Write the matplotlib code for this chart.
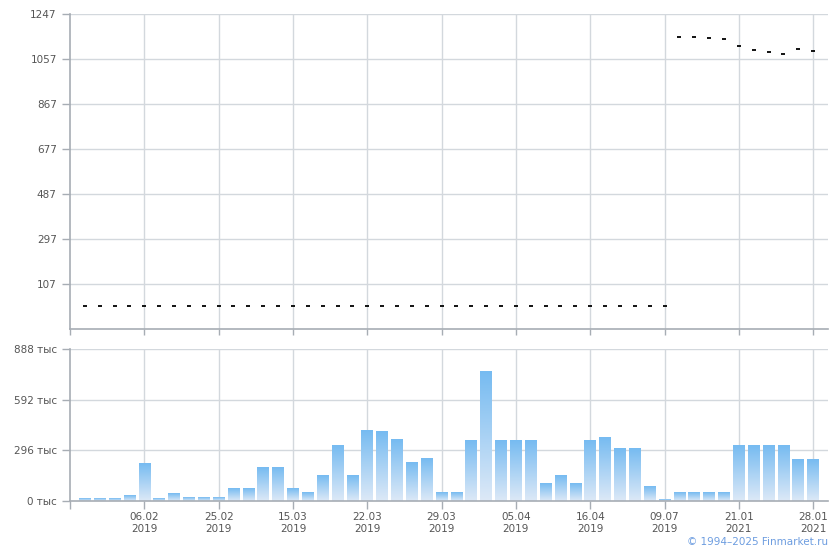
import numpy as np
import matplotlib
matplotlib.use('Agg')
import matplotlib.pyplot as plt
from matplotlib.colors import LinearSegmentedColormap

# цена (верхний график): 40 точек по ~17, потом 10 точек около 1100
price = [17] * 40 + [1148, 1148, 1144, 1140, 1112, 1094, 1085, 1078, 1098, 1090]

# объём торгов, тыс
volume = [17, 17, 17, 35, 221, 12, 41, 23, 23, 23,
          76, 76, 198, 198, 76, 52, 151, 326, 151, 413,
          408, 361, 227, 250, 52, 52, 355, 757, 355, 355,
          355, 105, 151, 105, 355, 373, 309, 309, 82, 6,
          47, 47, 47, 47, 326, 326, 326, 326, 245, 245]

tick_pos = [4, 9, 14, 19, 24, 29, 34, 39, 44, 49]
tick_labels = ['06.02\n2019', '25.02\n2019', '15.03\n2019', '22.03\n2019', '29.03\n2019',
               '05.04\n2019', '16.04\n2019', '09.07\n2019', '21.01\n2021', '28.01\n2021']

price_ticks = [-83 + 190 * k for k in range(1, 8)]
vol_ticks = [0, 296, 592, 888]

grid_c = '#d3d8dd'
spine_c = '#a7adb4'
text_c = '#555555'

x = np.arange(len(volume))

fig = plt.figure(figsize=(8.4, 5.5), dpi=100)
ax1 = fig.add_axes([70 / 840, 1 - 329.3 / 550, 758 / 840, 315.3 / 550])
ax2 = fig.add_axes([70 / 840, 1 - 501 / 550, 758 / 840, 151.7 / 550])

for ax in (ax1, ax2):
    ax.set_xlim(-1, 50)
    for s in ('top', 'right'):
        ax.spines[s].set_visible(False)
    for s in ('left', 'bottom'):
        ax.spines[s].set_color(spine_c)
        ax.spines[s].set_linewidth(1.2)
    ax.set_xticks([-1] + tick_pos)
    ax.tick_params(axis='both', colors=spine_c, labelcolor=text_c, labelsize=7.5, width=1)
    ax.tick_params(axis='y', length=6)
    ax.set_axisbelow(True)
    # вертикальная сетка только на подписанных делениях
    for p in tick_pos:
        ax.axvline(p, color=grid_c, lw=1, zorder=0)

# верхний график
ax1.plot(x[:len(price)], price, ls='none', marker='_', color='black', markersize=3, mew=1.3)
ax1.set_ylim(-83, 1247)
ax1.set_yticks(price_ticks)
ax1.set_yticklabels([str(v) for v in price_ticks])
ax1.set_xticklabels([])
ax1.tick_params(axis='x', length=4)
for v in price_ticks:
    ax1.axhline(v, color=grid_c, lw=1, zorder=0)

# нижний график: столбцы с градиентом
cmap = LinearSegmentedColormap.from_list('bars', ['#dde9f7', '#76bbf1'])
grad = np.linspace(0, 1, 256).reshape(-1, 1)
w = 0.39
for xi, v in zip(x, volume):
    ax2.imshow(grad, cmap=cmap, origin='lower', aspect='auto',
               extent=(xi - w, xi + w, 0, v), zorder=2)
ax2.set_ylim(0, 888)
ax2.set_yticks(vol_ticks)
ax2.set_yticklabels([f'{v} тыс' for v in vol_ticks])
ax2.set_xticklabels([''] + tick_labels, linespacing=1.2)
ax2.tick_params(axis='x', length=6, pad=2)
for v in vol_ticks[1:]:
    ax2.axhline(v, color=grid_c, lw=1, zorder=0)

fig.text(0.986, 1 - 542 / 550, '\u00a9 1994\u20132025 Finmarket.ru', ha='right', va='center',
         color='#6d9de0', fontsize=7.5)

fig.savefig('out.png', dpi=100)
